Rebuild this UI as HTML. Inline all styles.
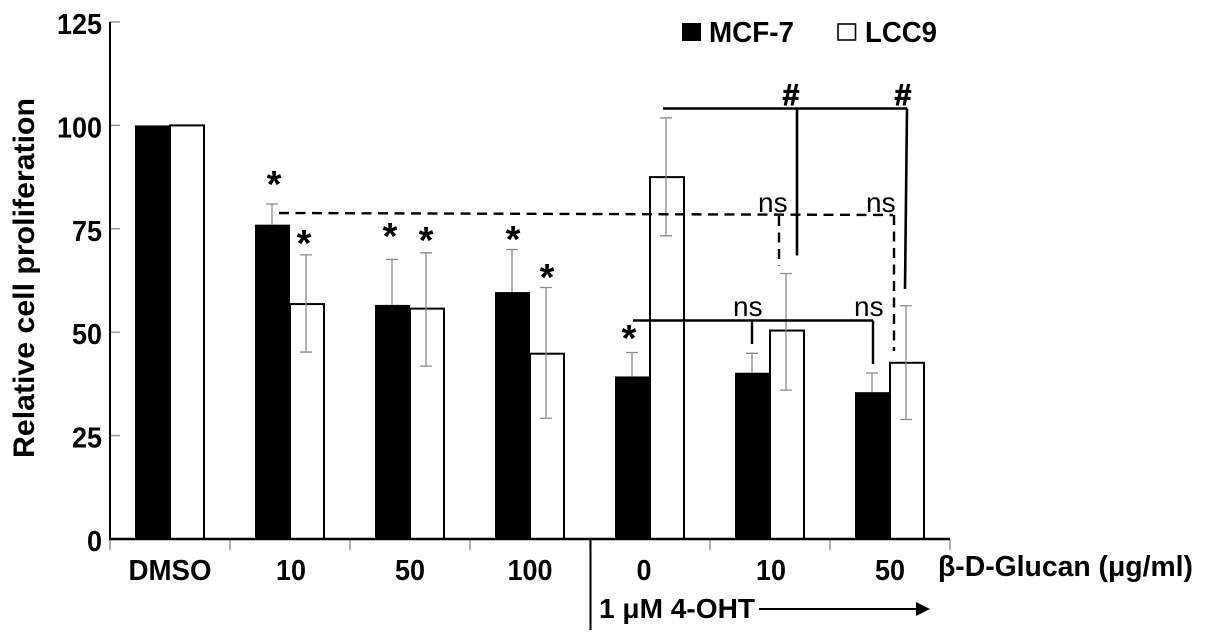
<!DOCTYPE html>
<html lang="en">
<head>
<meta charset="utf-8">
<title>Relative cell proliferation</title>
<style>
html,body{margin:0;padding:0;background:#fff;}
svg{display:block;}
text{font-family:"Liberation Sans",sans-serif;fill:#000;}
.b{font-weight:bold;}
.tick{font-size:29px;font-weight:bold;}
.ns{font-size:28px;}
.star{font-size:38px;font-weight:bold;text-anchor:middle;}
.hash{font-size:30px;font-weight:bold;text-anchor:middle;stroke:#000;stroke-width:0.9px;}
</style>
</head>
<body>
<svg id="chart" width="1205" height="643" viewBox="0 0 1205 643" xmlns="http://www.w3.org/2000/svg">
  <rect x="0" y="0" width="1205" height="643" fill="#fff"/>
  <g id="bars"></g>
  <g id="errors"></g>
  <g id="axes"></g>

  <text class="b" transform="translate(34 458) rotate(-90)" font-size="30" textLength="360" lengthAdjust="spacingAndGlyphs">Relative cell proliferation</text>

  <g>
    <rect x="682" y="23" width="19" height="18" fill="#000"/>
    <text class="b" x="709" y="42" font-size="29" textLength="85" lengthAdjust="spacingAndGlyphs">MCF-7</text>
    <rect x="838" y="24" width="17.5" height="16" fill="#fff" stroke="#000" stroke-width="1.6"/>
    <text class="b" x="865" y="42" font-size="29" textLength="72" lengthAdjust="spacingAndGlyphs">LCC9</text>
  </g>

  <g fill="none" stroke="#000">
    <path stroke-width="2.6" d="M663 108.5H907M797 108.5V255.5M907 108.5L905 289"/>
    <path stroke-width="2.4" d="M633 320.5H873M752 320.5V344M873 320.5V364"/>
    <path stroke-width="2.4" stroke-dasharray="10 6.5" d="M279 213L893 215"/>
    <path stroke-width="2.4" stroke-dasharray="10 6.5" d="M779 216V266"/>
    <path stroke-width="2.4" stroke-dasharray="10 6.5" d="M894 215V351"/>
  </g>

  <g>
    <text class="hash" x="791" y="105">#</text>
    <text class="hash" x="903" y="105">#</text>
    <text class="ns" x="758" y="212">ns</text>
    <text class="ns" x="866" y="212">ns</text>
    <text class="ns" x="733" y="316">ns</text>
    <text class="ns" x="854" y="316">ns</text>
    <text class="star" x="274" y="197">*</text>
    <text class="star" x="304" y="256">*</text>
    <text class="star" x="390" y="249">*</text>
    <text class="star" x="426" y="253">*</text>
    <text class="star" x="513" y="252">*</text>
    <text class="star" x="547" y="290">*</text>
    <text class="star" x="629" y="351">*</text>
  </g>

  <text class="b" x="938" y="576" font-size="28.5" textLength="255" lengthAdjust="spacingAndGlyphs">β-D-Glucan (μg/ml)</text>
  <line x1="590.5" y1="539" x2="590.5" y2="630" stroke="#000" stroke-width="2"/>
  <text class="b" x="599" y="618" font-size="28" textLength="156" lengthAdjust="spacingAndGlyphs">1 μM 4-OHT</text>
  <g>
    <line x1="759" y1="609" x2="920" y2="609" stroke="#000" stroke-width="2"/>
    <path d="M916 602L930 609L916 616Z" fill="#000"/>
  </g>
</svg>

<script>
const categories = ["DMSO", "10", "50", "100", "0", "10", "50"];
const yTickValues = [0, 25, 50, 75, 100, 125];
const mcf7Values = [100, 76, 56.6, 59.7, 39.3, 40.2, 35.5];
const lcc9Values = [100, 56.8, 55.7, 44.8, 87.5, 50.4, 42.6];
const mcf7ErrorHigh = [null, 81, 67.6, 70, 45.1, 44.9, 40.1];
const lcc9ErrorHigh = [null, 68.7, 69.2, 60.8, 101.8, 64.2, 56.4];
const lcc9ErrorLow = [null, 45.2, 41.8, 29.2, 73.3, 36, 28.9];

const NS = "http://www.w3.org/2000/svg";
const AXIS_LEFT = 110, AXIS_BOTTOM = 539, BAND = 120, PX_PER_UNIT = 4.136;
function yScale(v) { return AXIS_BOTTOM - v * PX_PER_UNIT; }
function bandEdge(i) { return AXIS_LEFT + i * BAND; }
function bandCenter(i) { return bandEdge(i) + BAND / 2; }
function labelWidth(s) { return s === "DMSO" ? 83 : s.length * 15; }
function make(tag, parent, attrs, text) {
  const el = document.createElementNS(NS, tag);
  for (const k in attrs) el.setAttribute(k, attrs[k]);
  if (text !== undefined) el.textContent = text;
  document.getElementById(parent).appendChild(el);
  return el;
}

categories.forEach(function (cat, i) {
  const c = bandCenter(i);
  const black = make("rect", "bars", { x: c - 35, y: yScale(mcf7Values[i]), width: 35, height: AXIS_BOTTOM - yScale(mcf7Values[i]), fill: "#000" });
  
  
  const white = make("rect", "bars", { x: c, y: yScale(lcc9Values[i]), width: 34, height: AXIS_BOTTOM - yScale(lcc9Values[i]), fill: "#fff", stroke: "#000", "stroke-width": 2 });
  
  

  if (mcf7ErrorHigh[i] !== null) {
    const ex = c - 18;
    const e1 = make("path", "errors", { d: "M" + ex + " " + yScale(mcf7Values[i]) + "V" + yScale(mcf7ErrorHigh[i]) + "M" + (ex - 6) + " " + yScale(mcf7ErrorHigh[i]) + "H" + (ex + 6), stroke: "#8a8a8a", "stroke-width": 1.3, fill: "none" });
    
    
  }
  if (lcc9ErrorHigh[i] !== null) {
    const ex2 = c + 16;
    const hi = yScale(lcc9ErrorHigh[i]), lo = yScale(lcc9ErrorLow[i]);
    const e2 = make("path", "errors", { d: "M" + ex2 + " " + hi + "V" + lo + "M" + (ex2 - 6) + " " + hi + "H" + (ex2 + 6) + "M" + (ex2 - 6) + " " + lo + "H" + (ex2 + 6), stroke: "#8a8a8a", "stroke-width": 1.3, fill: "none" });
    
    
  }
});

const catAdjust = [0, 1, 0, 0, -6, 1, 0];
categories.forEach(function (cat, i) {
  const label = make("text", "axes", { x: bandCenter(i) + catAdjust[i], y: 580, "text-anchor": "middle", class: "tick", textLength: labelWidth(cat), lengthAdjust: "spacingAndGlyphs" }, cat);
  
  
});
for (let i = 0; i <= categories.length; i++) {
  const t = make("line", "axes", { x1: bandEdge(i), y1: AXIS_BOTTOM, x2: bandEdge(i), y2: AXIS_BOTTOM + 11, stroke: "#8a8a8a", "stroke-width": 1.3 });
  
  
}
yTickValues.forEach(function (v) {
  const t = make("line", "axes", { x1: AXIS_LEFT, y1: yScale(v), x2: AXIS_LEFT + 10, y2: yScale(v), stroke: "#8a8a8a", "stroke-width": 1.3 });
  
  
  const label = make("text", "axes", { x: 102, y: yScale(v) + 12, "text-anchor": "end", class: "tick", textLength: labelWidth(String(v)), lengthAdjust: "spacingAndGlyphs" }, String(v));
  
  
});
const yAxis = make("line", "axes", { x1: AXIS_LEFT, y1: yScale(125), x2: AXIS_LEFT, y2: AXIS_BOTTOM, stroke: "#000", "stroke-width": 2 });


const xAxis = make("line", "axes", { x1: AXIS_LEFT - 1, y1: AXIS_BOTTOM, x2: bandEdge(categories.length), y2: AXIS_BOTTOM, stroke: "#000", "stroke-width": 2.4 });


</script>
</body>
</html>
